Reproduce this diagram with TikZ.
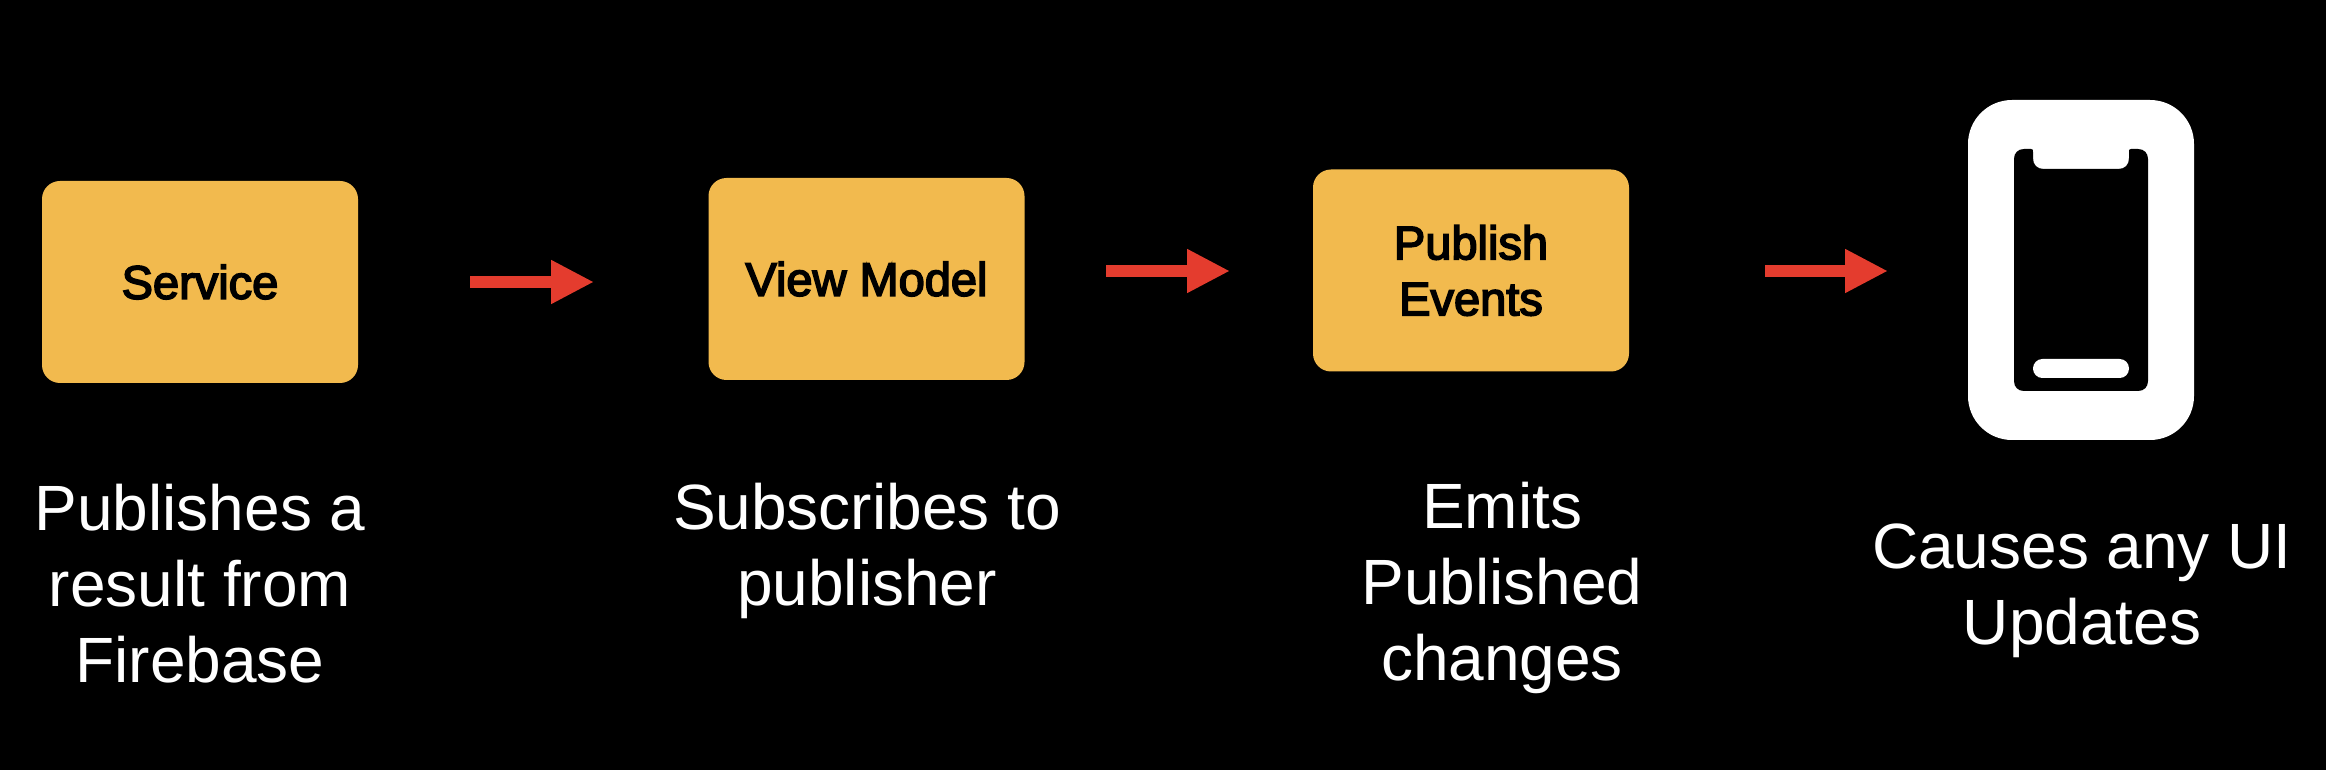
\documentclass[tikz,border=0pt]{standalone}
\usepackage{fontspec}
\setmainfont{Liberation Sans}
\newfontfamily\boxfont[FakeBold=3.5]{Liberation Sans}
\usetikzlibrary{arrows.meta}
\definecolor{boxfill}{HTML}{F2BA4E}
\definecolor{arrowred}{HTML}{E43C2E}
\tikzset{
  flowbox/.style={fill=boxfill,rounded corners=9pt,minimum width=158pt,minimum height=101pt,inner sep=0pt,align=center,text=black,font=\boxfont\fontsize{23.5}{28}\selectfont},
  caption/.style={text=white,align=center,inner sep=0pt,font=\fontsize{32}{38}\selectfont},
  flowarrow/.style={arrowred,line width=5.7pt,-{Triangle[length=21.5pt,width=20.5pt]}},
}
\begin{document}
\begin{tikzpicture}[x=0.5pt,y=-0.5pt]
\path[fill=black,use as bounding box] (0,0) rectangle (2326,770);
\node[flowbox] (service) at (200,282) {Service};
\node[flowbox] (viewmodel) at (866.5,279) {View Model};
\node[flowbox] (publish) at (1471,270.5) {Publish\\Events};
\node[fill=white,rounded corners=22pt,minimum width=113pt,minimum height=170pt,inner sep=0pt] (phone) at (2081,270) {};
\fill[black,rounded corners=0pt] (2024,149)
  -- (2031,149) .. controls (2033,149) and (2033,150) .. (2033,152)
  -- (2033,158) .. controls (2033,165) and (2037,169) .. (2044,169)
  -- (2118,169) .. controls (2125,169) and (2129,165) .. (2129,158)
  -- (2129,152) .. controls (2129,150) and (2129,149) .. (2131,149)
  -- (2138,149) .. controls (2144,149) and (2148,153) .. (2148,159)
  -- (2148,381) .. controls (2148,387) and (2144,391) .. (2138,391)
  -- (2024,391) .. controls (2018,391) and (2014,387) .. (2014,381)
  -- (2014,159) .. controls (2014,153) and (2018,149) .. (2024,149) -- cycle;
\node[fill=white,rounded corners=4.7pt,minimum width=48pt,minimum height=9.5pt,inner sep=0pt] (homebar) at (2081,368.5) {};
\coordinate (a1s) at (470,282);
\coordinate (a1e) at (594,282);
\coordinate (a2s) at (1106,271);
\coordinate (a2e) at (1230,271);
\coordinate (a3s) at (1765,271);
\coordinate (a3e) at (1888,271);
\draw[flowarrow] (a1s) -- (a1e);
\draw[flowarrow] (a2s) -- (a2e);
\draw[flowarrow] (a3s) -- (a3e);
\node[caption] (c1) at (200,583.5) {Publishes a\\result from\\Firebase};
\node[caption] (c2) at (867,551) {Subscribes to\\publisher};
\node[caption] (c3) at (1502,588) {Emits\\Published\\changes};
\node[caption] (c4) at (2082,590.5) {Causes any UI\\Updates};
\end{tikzpicture}
\end{document}
